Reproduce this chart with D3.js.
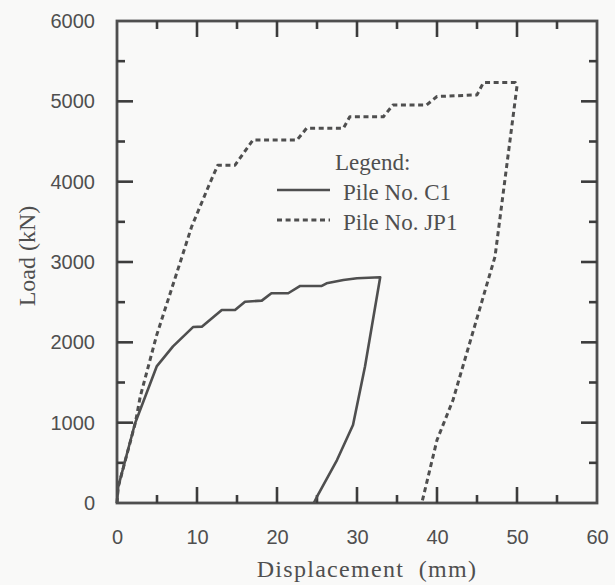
<!DOCTYPE html>
<html>
<head>
<meta charset="utf-8">
<script src="https://cdn.jsdelivr.net/npm/d3@7/dist/d3.min.js"></script>
<style>
  html, body { margin: 0; padding: 0; background: #f9f9f8; }
  svg { display: block; }
</style>
</head>
<body>
<svg id="chart" width="615" height="585"></svg>
<script>
// ---- data (displacement mm, load kN) ----
const c1Disp = [0, 0.15, 2.25, 4.96, 7.0, 9.5, 10.6, 13.1, 14.75, 16.0, 18.1, 19.3, 21.4, 22.9, 25.6, 26.2, 28.3, 30.0, 32.9, 32.9, 31.0, 29.5, 27.5, 25.0, 24.6];
const c1Load = [0, 200, 990, 1700, 1950, 2190, 2195, 2403, 2403, 2506, 2519, 2611, 2611, 2702, 2702, 2735, 2776, 2797, 2810, 2810, 1700, 971, 535, 78, 0];

const jp1Disp = [0, 0.15, 2.3, 2.9, 4.96, 7.46, 9.33, 11.6, 12.6, 14.75, 17.0, 22.5, 23.7, 28.3, 29.1, 33.3, 34.5, 38.7, 40.0, 45.0, 45.8, 49.8, 50.0, 47.25, 42.0, 40.0, 38.1];
const jp1Load = [0, 200, 1000, 1323, 2090, 2860, 3440, 3980, 4205, 4205, 4519, 4519, 4665, 4665, 4809, 4809, 4955, 4955, 5060, 5080, 5233, 5233, 5190, 3066, 1282, 784, 0];

const xTicks = [0, 10, 20, 30, 40, 50, 60];
const yTicks = [0, 1000, 2000, 3000, 4000, 5000, 6000];
const xMinor = [5, 15, 25, 35, 45, 55];
const yMinor = [500, 1500, 2500, 3500, 4500, 5500];
const xMajorInner = [10, 20, 30, 40, 50];
const yMajorInner = [1000, 2000, 3000, 4000, 5000];

const legendTitle = "Legend:";
const seriesNames = ["Pile No. C1", "Pile No. JP1"];
const xTitle = "Displacement  (mm)";
const yTitle = "Load (kN)";

// ---- layout ----
const L = 117, R = 597, T = 21, B = 503;
const ink = "#4f4f4f";
const svg = d3.select("#chart");

const x = d3.scaleLinear().domain([0, 60]).range([L, R]);
const y = d3.scaleLinear().domain([0, 6000]).range([B, T]);

// frame
svg.append("rect")
  .attr("x", L).attr("y", T).attr("width", R - L).attr("height", B - T)
  .attr("fill", "none").attr("stroke", ink).attr("stroke-width", 2.8);

// inner ticks on all four sides (one line per tick, drawn from the scales)
const tickSpecs = [];
xMajorInner.forEach(v => tickSpecs.push({ axis: "x", v: v, len: 16 }));
xMinor.forEach(v => tickSpecs.push({ axis: "x", v: v, len: 8 }));
yMajorInner.forEach(v => tickSpecs.push({ axis: "y", v: v, len: 16 }));
yMinor.forEach(v => tickSpecs.push({ axis: "y", v: v, len: 8 }));
const segs = [];
tickSpecs.forEach(t => {
  if (t.axis === "x") {
    segs.push([x(t.v), B, x(t.v), B - t.len]);
    segs.push([x(t.v), T, x(t.v), T + t.len]);
  } else {
    segs.push([L, y(t.v), L + t.len, y(t.v)]);
    segs.push([R, y(t.v), R - t.len, y(t.v)]);
  }
});
svg.append("g").attr("class", "inner-ticks").selectAll("line").data(segs).enter().append("line")
  .attr("x1", d => d[0]).attr("y1", d => d[1]).attr("x2", d => d[2]).attr("y2", d => d[3])
  .attr("stroke", "#3c3c3c").attr("stroke-width", 2.6);

// tick labels
const labelFont = "'Liberation Sans', Arial, sans-serif";
const gxl = svg.append("g").attr("transform", `translate(0,${B})`)
  .call(d3.axisBottom(x).tickValues(xTicks).tickSize(0).tickPadding(27).tickFormat(d3.format("d")));
gxl.select(".domain").remove();
gxl.selectAll("text").attr("font-family", labelFont).attr("font-size", 20).attr("fill", ink);

const gyl = svg.append("g").attr("transform", `translate(${L},0)`)
  .call(d3.axisLeft(y).tickValues(yTicks).tickSize(0).tickPadding(22).tickFormat(d3.format("d")));
gyl.select(".domain").remove();
gyl.selectAll("text").attr("font-family", labelFont).attr("font-size", 20).attr("fill", ink);

// axis titles
const serif = "'Liberation Serif', 'Times New Roman', serif";
svg.append("text").attr("x", 367).attr("y", 577).attr("text-anchor", "middle")
  .attr("font-family", serif).attr("font-size", 24).attr("letter-spacing", 1.3)
  .attr("fill", ink).style("white-space", "pre").text(xTitle);
svg.append("text").attr("transform", "translate(35,256) rotate(-90)").attr("text-anchor", "middle")
  .attr("font-family", serif).attr("font-size", 24).attr("fill", ink).text(yTitle);

// curves
const line = d3.line().x(d => x(d[0])).y(d => y(d[1]));
const c1 = c1Disp.map((d, i) => [d, c1Load[i]]);
const jp1 = jp1Disp.map((d, i) => [d, jp1Load[i]]);

svg.append("path").datum(jp1).attr("d", line)
  .attr("fill", "none").attr("stroke", ink).attr("stroke-width", 3)
  .attr("stroke-dasharray", "5,3.6").attr("stroke-linejoin", "round");
svg.append("path").datum(c1).attr("d", line)
  .attr("fill", "none").attr("stroke", ink).attr("stroke-width", 2.6)
  .attr("stroke-linejoin", "round");

// legend
svg.append("text").attr("x", 335).attr("y", 170)
  .attr("font-family", serif).attr("font-size", 23).attr("fill", ink).text(legendTitle);
const legY = [190, 220];
seriesNames.forEach((name, i) => {
  svg.append("line").attr("x1", 277).attr("x2", 330).attr("y1", legY[i]).attr("y2", legY[i])
    .attr("stroke", ink).attr("stroke-width", i === 0 ? 2.6 : 3)
    .attr("stroke-dasharray", i === 0 ? null : "5,3.6");
  svg.append("text").attr("x", 343).attr("y", legY[i] + 10)
    .attr("font-family", serif).attr("font-size", 23).attr("fill", ink).text(name);
});
</script>
</body>
</html>
